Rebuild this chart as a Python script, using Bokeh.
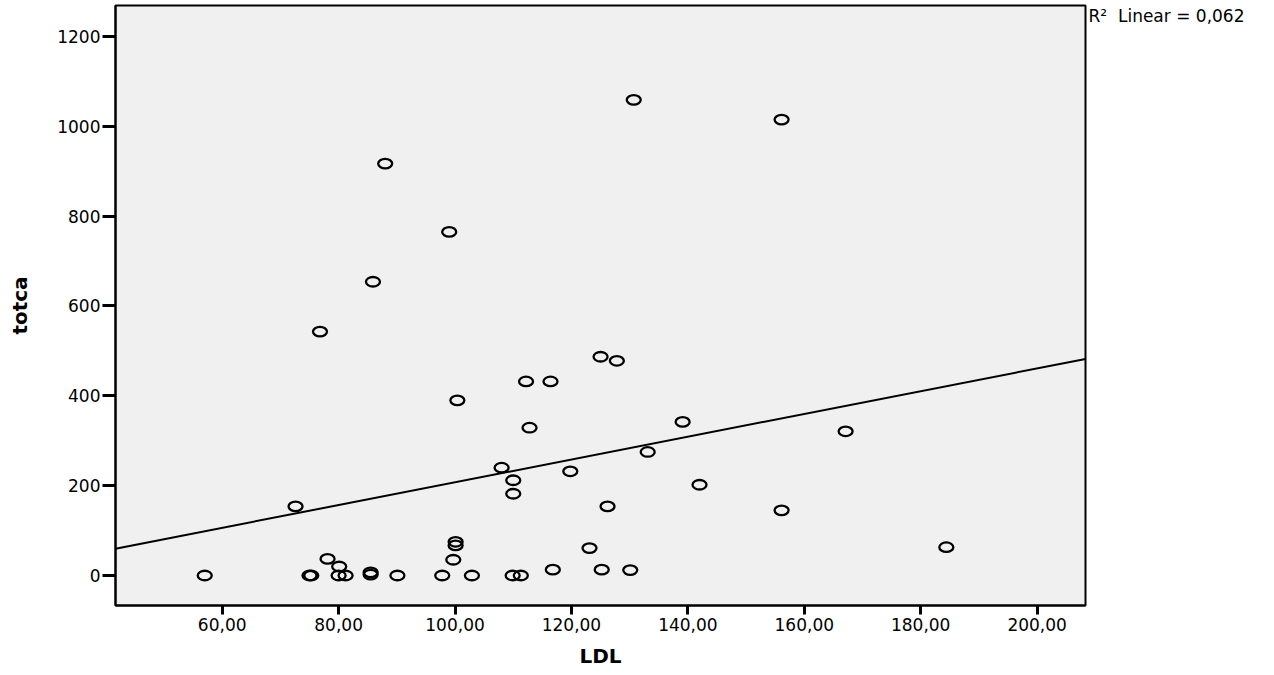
import numpy as np
from bokeh.plotting import figure
from bokeh.models import Range1d, FixedTicker
from bokeh.embed import file_html
from bokeh.resources import INLINE

# Data (LDL vs totca)
ldl = [57.0, 75.0, 75.3, 72.6, 76.8, 78.1, 80.1, 80.0, 81.2, 85.5, 85.5,
       85.9, 88.0, 90.1, 97.8, 99.0, 99.7, 100.1, 100.1, 100.4, 102.9,
       108.0, 109.9, 111.3, 110.0, 110.0, 112.2, 112.8, 116.4, 116.8,
       119.8, 123.1, 125.0, 125.2, 126.2, 127.8, 130.1, 130.7, 133.1,
       139.1, 142.0, 156.1, 156.1, 167.1, 184.4]
totca = [0, 0, 0, 154, 543, 37, 20, 0, 0, 7, 2,
         654, 917, 0, 0, 765, 35, 75, 67, 390, 0,
         240, 0, 0, 212, 182, 432, 329, 432, 13,
         232, 61, 487, 13, 154, 478, 12, 1059, 275,
         342, 202, 1015, 145, 321, 63]

x_ticks = [60, 80, 100, 120, 140, 160, 180, 200]
x_tick_labels = ["60,00", "80,00", "100,00", "120,00", "140,00", "160,00", "180,00", "200,00"]
y_ticks = [0, 200, 400, 600, 800, 1000, 1200]
r2_text = "R\u00b2\u00a0 Linear = 0,062"

x_lo, x_hi = 41.67, 208.31
y_lo, y_hi = -66.8, 1269.0

FONT = "DejaVu Sans"

p = figure(width=1274, height=675, output_backend="svg", toolbar_location=None,
           x_range=Range1d(x_lo, x_hi), y_range=Range1d(y_lo, y_hi),
           min_border_left=115, min_border_right=189,
           min_border_top=5, min_border_bottom=70)
p.background_fill_color = "#f0f0f0"
p.border_fill_color = "white"
p.outline_line_color = "black"
p.outline_line_width = 2
p.grid.visible = False

# regression line from data
m, b = np.polyfit(np.array(ldl), np.array(totca), 1)
p.line([x_lo, x_hi], [b + m * x_lo, b + m * x_hi], line_color="black", line_width=2)

p.ellipse(x=ldl, y=totca, width=14, height=9.5, width_units="screen", height_units="screen",
          fill_color=None, line_color="black", line_width=2.3)

# axes
p.xaxis.ticker = FixedTicker(ticks=x_ticks)
p.xaxis.major_label_overrides = {t: l for t, l in zip(x_ticks, x_tick_labels)}
p.yaxis.ticker = FixedTicker(ticks=y_ticks)
for ax in (p.xaxis, p.yaxis):
    ax.axis_line_color = "black"
    ax.axis_line_width = 2
    ax.major_tick_line_color = "black"
    ax.major_tick_line_width = 3
    ax.major_tick_in = 0
    ax.minor_tick_line_color = None
    ax.major_label_text_font = FONT
    ax.major_label_text_font_size = "17px"
    ax.major_label_text_color = "black"
    ax.axis_label_text_font = FONT
    ax.axis_label_text_font_style = "bold"
    ax.axis_label_text_font_size = "20px"
    ax.axis_label_text_color = "black"

p.xaxis.axis_label = "LDL"
p.xaxis.major_tick_out = 9
p.xaxis.major_label_standoff = 3
p.xaxis.axis_label_standoff = 10

p.yaxis.axis_label = "totca"
p.yaxis.major_tick_out = 13
p.yaxis.major_label_standoff = 2
p.yaxis.axis_label_standoff = 22

# R² annotation to the right of the frame, drawn via the (unclipped) title panel
p.title.text = r2_text
p.title.align = "left"
p.title.offset = 973
p.title.standoff = -40
p.title.vertical_align = "bottom"
p.title.text_font = FONT
p.title.text_font_style = "normal"
p.title.text_font_size = "17px"
p.title.text_color = "black"

open("out.html", "w").write(file_html(p, INLINE))
